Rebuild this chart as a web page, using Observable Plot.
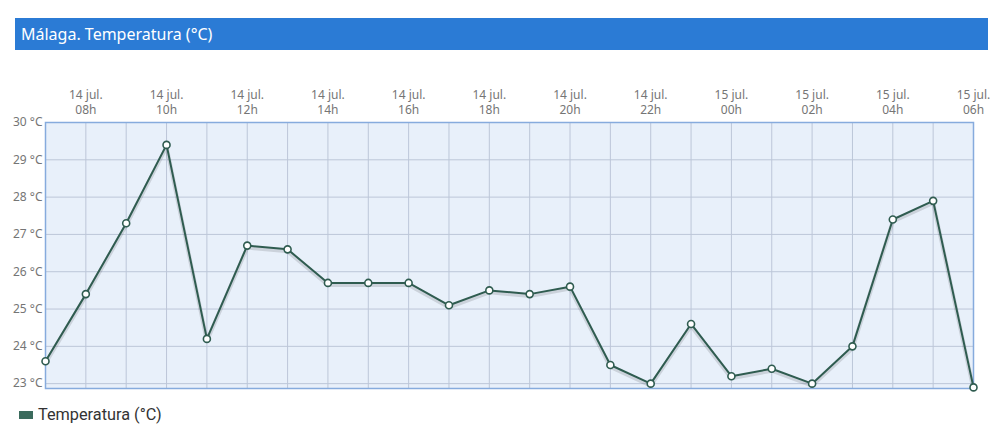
<!DOCTYPE html>
<html>
<head>
<meta charset="utf-8">
<script src="https://cdn.jsdelivr.net/npm/d3@7"></script>
<script src="https://cdn.jsdelivr.net/npm/@observablehq/plot@0.6"></script>
<style>
  html, body { margin: 0; padding: 0; background: #fff; width: 1000px; height: 446px; overflow: hidden; position: relative; font-family: "Noto Sans", "Open Sans", sans-serif; }
  #title { position: absolute; left: 15px; top: 18px; width: 973px; height: 32px; background: #2b7bd5; color: #fff; font-size: 16px; line-height: 33px; box-sizing: border-box; padding-left: 6px; }
  #chart { position: absolute; left: 0; top: 0; }
  #legend { position: absolute; left: 19px; top: 405px; font-family: Roboto, "Noto Sans", sans-serif; font-size: 16.3px; color: #333; display: flex; align-items: center; }
  #legend .sw { width: 14px; height: 8px; background: #3b6b5d; margin-right: 5px; margin-top: 1px; }
</style>
</head>
<body>
<div id="title">Málaga. Temperatura (°C)</div>
<div id="chart"></div>
<div id="legend"><span class="sw"></span><span>Temperatura (°C)</span></div>
<script>
const times = [
  "2024-07-14T07:00Z","2024-07-14T08:00Z","2024-07-14T09:00Z","2024-07-14T10:00Z",
  "2024-07-14T11:00Z","2024-07-14T12:00Z","2024-07-14T13:00Z","2024-07-14T14:00Z",
  "2024-07-14T15:00Z","2024-07-14T16:00Z","2024-07-14T17:00Z","2024-07-14T18:00Z",
  "2024-07-14T19:00Z","2024-07-14T20:00Z","2024-07-14T21:00Z","2024-07-14T22:00Z",
  "2024-07-14T23:00Z","2024-07-15T00:00Z","2024-07-15T01:00Z","2024-07-15T02:00Z",
  "2024-07-15T03:00Z","2024-07-15T04:00Z","2024-07-15T05:00Z","2024-07-15T06:00Z"
];
const temperatura = [
  23.6, 25.4, 27.3, 29.4, 24.2, 26.7, 26.6, 25.7,
  25.7, 25.7, 25.1, 25.5, 25.4, 25.6, 23.5, 23.0,
  24.6, 23.2, 23.4, 23.0, 24.0, 27.4, 27.9, 22.9
];
const yTicks = [23, 24, 25, 26, 27, 28, 29, 30];
const monthLabel = "jul.";

const data = times.map((t, i) => ({ t: new Date(t), v: temperatura[i] }));
const t0 = data[0].t, t1 = data[data.length - 1].t;
const hourTicks = data.map(d => d.t);
const labelTicks = hourTicks.filter(d => d.getUTCHours() % 2 === 0);

const fmtDay = d => `${d.getUTCDate()} ${monthLabel}`;
const fmtHour = d => `${String(d.getUTCHours()).padStart(2, "0")}h`;
const tickColor = "#757575";

const plot = Plot.plot({
  width: 1000,
  height: 400,
  marginTop: 122,
  marginBottom: 12,
  marginLeft: 45,
  marginRight: 27,
  style: { fontFamily: "'Noto Sans', 'Open Sans', sans-serif", background: "transparent", color: tickColor },
  x: { type: "utc", domain: [t0, t1], axis: null },
  y: { domain: [22.87, 30], axis: null },
  marks: [
    Plot.frame({ fill: "#e8f0fa", stroke: null }),
    Plot.gridX(hourTicks, { stroke: "#bcc6d8", strokeOpacity: 1, strokeWidth: 1 }),
    Plot.gridY(yTicks, { stroke: "#bcc6d8", strokeOpacity: 1, strokeWidth: 1 }),
    Plot.frame({ stroke: "#86abdd", strokeWidth: 1.5 }),
    Plot.text(labelTicks, { x: d => d, frameAnchor: "top", dy: -27, text: fmtDay, fontSize: 12, fill: tickColor, lineAnchor: "middle" }),
    Plot.text(labelTicks, { x: d => d, frameAnchor: "top", dy: -12, text: fmtHour, fontSize: 12, fill: tickColor, lineAnchor: "middle" }),
    Plot.axisY(yTicks, { anchor: "left", tickFormat: d => `${d} °C`, tickSize: 0, tickPadding: 3, fontSize: 12, fill: tickColor, label: null }),
    Plot.line(data, { x: "t", y: "v", stroke: "#000", strokeOpacity: 0.12, strokeWidth: 4, dy: 2 }),
    Plot.line(data, { x: "t", y: "v", stroke: "#2f5c50", strokeWidth: 2 }),
    Plot.dot(data, { x: "t", y: "v", r: 3.5, fill: "#fff", stroke: "#2f5c50", strokeWidth: 1.6 })
  ]
});
document.getElementById("chart").appendChild(plot);
</script>
</body>
</html>
